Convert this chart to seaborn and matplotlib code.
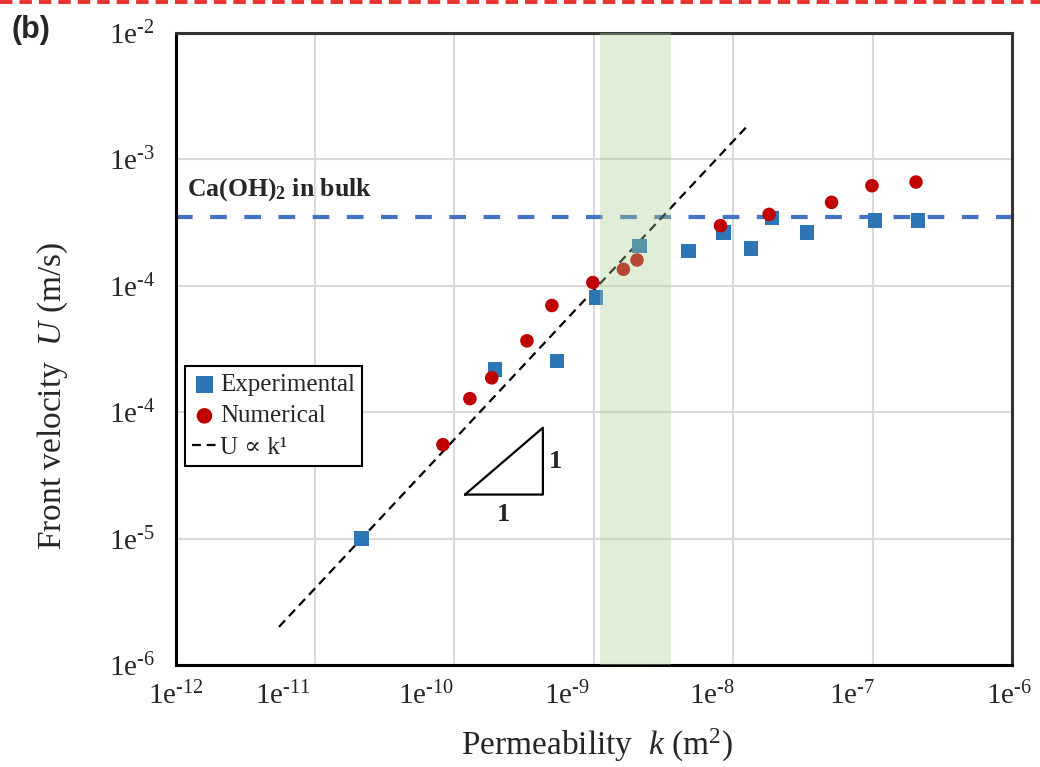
import matplotlib
matplotlib.use("Agg")
import matplotlib.pyplot as plt
from matplotlib.lines import Line2D
from matplotlib.ticker import LogLocator, NullFormatter
from matplotlib.transforms import ScaledTranslation
import seaborn as sns
import pandas as pd

# data (permeability k in m^2, front velocity U in m/s)
exp_k = [2.15e-11, 1.95e-10, 5.43e-10, 1.04e-9, 2.13e-9, 4.8e-9, 8.5e-9,
         1.34e-8, 1.9e-8, 3.39e-8, 1.04e-7, 2.12e-7]
exp_U = [1.0e-6, 2.17e-5, 2.55e-5, 8.1e-5, 2.06e-4, 1.89e-4, 2.63e-4,
         1.98e-4, 3.45e-4, 2.63e-4, 3.27e-4, 3.27e-4]

num_k = [8.26e-11, 1.29e-10, 1.85e-10, 3.31e-10, 5.0e-10, 9.84e-10, 1.63e-9,
         2.04e-9, 8.1e-9, 1.81e-8, 5.08e-8, 9.9e-8, 2.05e-7]
num_U = [5.53e-6, 1.28e-5, 1.87e-5, 3.67e-5, 6.98e-5, 1.06e-4, 1.35e-4,
         1.6e-4, 2.99e-4, 3.67e-4, 4.57e-4, 6.19e-4, 6.62e-4]

fit_k = [5.5e-12, 1.3e-8]
fit_U = [2.0e-7, 1.9e-3]

bulk_U = 3.5e-4
band_k = [1.1e-9, 3.6e-9]

slope_k = [1.19e-10, 4.31e-10]
slope_U = [2.23e-6, 7.53e-6]

xticks = [1e-12, 1e-11, 1e-10, 1e-9, 1e-8, 1e-7, 1e-6]
x_exps = ['12', '11', '10', '9', '8', '7', '6']
yticks = [1e-2, 1e-3, 1e-4, 1e-5, 1e-6, 1e-7]
y_exps = ['2', '3', '4', '4', '5', '6']


def sci_label(e):
    return '1e$^{\\text{-}%s}$' % e


sns.set_style("white")
plt.rcParams['font.family'] = ['Liberation Serif', 'DejaVu Serif']
plt.rcParams['mathtext.fontset'] = 'custom'
plt.rcParams['mathtext.rm'] = 'Liberation Serif'
plt.rcParams['mathtext.it'] = 'Liberation Serif:italic'
plt.rcParams['mathtext.bf'] = 'Liberation Serif:bold'

exp_df = pd.DataFrame({'k': exp_k, 'U': exp_U})
num_df = pd.DataFrame({'k': num_k, 'U': num_U})
fit_df = pd.DataFrame({'k': fit_k, 'U': fit_U})

fig = plt.figure(figsize=(10.4, 7.67), dpi=100)
ax = fig.add_axes([0.169, 0.133, 0.804, 0.824])
ax.set_xscale('log')
ax.set_yscale('log')

ax.grid(True, which='major', color='#d9d9d9', linewidth=1.5, zorder=0)
ax.set_axisbelow(True)

ax.axhline(bulk_U, color='#4472c4', linewidth=3, linestyle=(0, (4, 4.2)),
           zorder=2)

sns.lineplot(data=fit_df, x='k', y='U', ax=ax, color='black', linewidth=1.6,
             linestyle=(0, (4, 2.6)), label='U \u221d k\u00b9', zorder=3)
sns.scatterplot(data=exp_df, x='k', y='U', ax=ax, marker='s', s=110,
                color='#2e75b6', edgecolor='none', label='Experimental',
                zorder=4)
sns.scatterplot(data=num_df, x='k', y='U', ax=ax, marker='o', s=95,
                color='#c00000', edgecolor='none', label='Numerical', zorder=4)

ax.axvspan(band_k[0], band_k[1], color='#a9d18e', alpha=0.35, lw=0, zorder=5)

# slope triangle
ax.plot([slope_k[0], slope_k[1], slope_k[1], slope_k[0]],
        [slope_U[0], slope_U[0], slope_U[1], slope_U[0]],
        color='black', linewidth=1.6, zorder=4)
ax.text((slope_k[0] * slope_k[1]) ** 0.5, slope_U[0] * 0.70, '1',
        fontsize=19, fontweight='bold', ha='center', va='center')
ax.text(slope_k[1] * 1.10, (slope_U[0] * slope_U[1]) ** 0.5, '1',
        fontsize=19, fontweight='bold', ha='left', va='center')

ax.text(0.014, 0.752, 'Ca(OH)$_\\mathbf{2}$ in bulk', transform=ax.transAxes,
        fontsize=18.5, fontweight='bold', ha='left', va='center')

ax.set_xlim(1e-12, 1e-6)
ax.set_ylim(1e-7, 1e-2)
ax.set_xticks(xticks)
ax.set_xticklabels([sci_label(e) for e in x_exps])
ax.set_yticks(yticks)
ax.set_yticklabels([sci_label(e) for e in y_exps])
ax.xaxis.set_minor_locator(LogLocator(base=10, subs=range(2, 10), numticks=20))
ax.yaxis.set_minor_locator(LogLocator(base=10, subs=range(2, 10), numticks=20))
ax.xaxis.set_minor_formatter(NullFormatter())
ax.yaxis.set_minor_formatter(NullFormatter())
ax.tick_params(which='major', direction='in', length=10, width=1.5,
               labelsize=21, color='black')
ax.tick_params(which='minor', direction='in', length=7, width=1.3,
               color='black')
ax.tick_params(axis='x', which='major', pad=12)
ax.tick_params(axis='y', which='major', pad=15)

# x tick labels sit a little left of their ticks in the original
xlabel_shift = [0, -32, -28, -27, -21, -20, -3]
for lbl, dx in zip(ax.get_xticklabels(), xlabel_shift):
    lbl.set_transform(lbl.get_transform() +
                      ScaledTranslation(dx / 100, 0, fig.dpi_scale_trans))

for sp in ax.spines.values():
    sp.set_color('black')
    sp.set_linewidth(2.2)
ax.spines['top'].set_color('#333333')
ax.spines['right'].set_color('#333333')

ax.set_xlabel('Permeability  $k$ (m$^2$)', fontsize=24)
ax.set_ylabel('Front velocity  $U$ (m/s)', fontsize=24)
ax.xaxis.set_label_coords(0.504, -0.098)
ax.yaxis.set_label_coords(-0.127, 0.426)

handles, labels = ax.get_legend_handles_labels()
order = [labels.index('Experimental'), labels.index('Numerical'),
         labels.index('U \u221d k\u00b9')]
leg = ax.legend([handles[i] for i in order], [labels[i] for i in order],
                loc='lower left', bbox_to_anchor=(0.011, 0.315),
                fontsize=18, frameon=True, fancybox=False, edgecolor='black',
                framealpha=1, handlelength=1.0, handletextpad=0.12,
                borderpad=0.28, labelspacing=0.36, borderaxespad=0,
                markerscale=1.15)
leg.get_frame().set_linewidth(1.5)

fig.text(0.011, 0.961, '(b)', fontsize=22, fontweight='bold',
         family='Liberation Sans', ha='left', va='center')
fig.add_artist(Line2D([0, 1], [0.9974, 0.9974], transform=fig.transFigure,
                      color='#e8312f', linewidth=2.8, linestyle=(0, (3.2, 1.8))))

fig.savefig('out.png', dpi=100)
